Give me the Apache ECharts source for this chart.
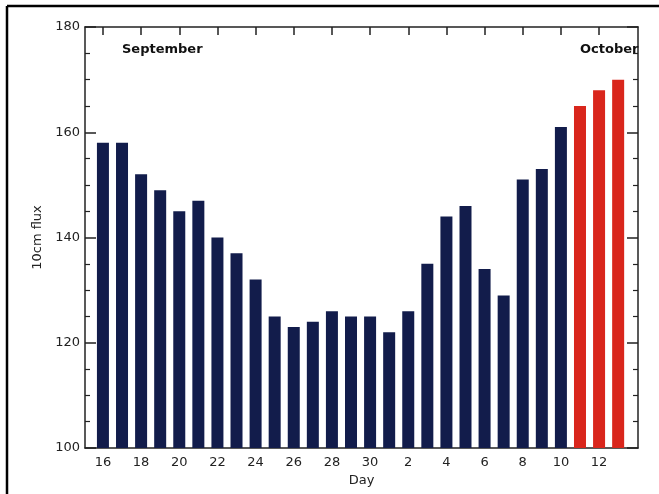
<!DOCTYPE html>
<html>
<head>
<meta charset="utf-8">
<script src="https://cdn.jsdelivr.net/npm/echarts@6/dist/echarts.min.js"></script>
<style>
html, body { margin: 0; padding: 0; background: #fff; }
#chart { width: 659px; height: 494px; }
</style>
</head>
<body>
<div id="chart"></div>
<script>
// day of month for each bar: Sept 16-30, then Oct 1-13
var days = [16, 17, 18, 19, 20, 21, 22, 23, 24, 25, 26, 27, 28, 29, 30,
            1, 2, 3, 4, 5, 6, 7, 8, 9, 10, 11, 12, 13]
// 10cm flux
var flux = [158, 158, 152, 149, 145, 147, 140, 137, 132, 125, 123, 124, 126, 125, 125,
            122, 126, 135, 144, 146, 134, 129, 151, 153, 161, 165, 168, 170]
// bars from this index on are drawn red (Oct 11-13)
var redFrom = 25
var tickIdx = [0, 2, 4, 6, 8, 10, 12, 14, 16, 18, 20, 22, 24, 26]

var navy = '#121c4b'
var red = '#d9261c'
var font = '"DejaVu Sans", Arial, sans-serif'

var xMin = -0.94, xMax = 28.04

var option = {
	animation: false,
	grid: { left: 85, right: 21, top: 27, bottom: 46 },
	xAxis: [
		{
			type: 'value', min: xMin, max: xMax,
			name: 'Day', nameLocation: 'middle', nameGap: 25,
			nameTextStyle: { fontFamily: font, fontSize: 13, color: '#222' },
			axisLine: { show: true, onZero: false, lineStyle: { color: '#222', width: 1.5 } },
			axisTick: { show: false },
			splitLine: { show: false },
			axisLabel: {
				customValues: tickIdx, margin: 8,
				fontFamily: font, fontSize: 13, color: '#222',
				formatter: function (v) { return String(days[Math.round(v)]) }
			}
		},
		{
			type: 'value', min: xMin, max: xMax, position: 'top',
			axisLine: { show: true, onZero: false, lineStyle: { color: '#222', width: 1.5 } },
			axisTick: { show: true, inside: true, length: 8, customValues: tickIdx,
				lineStyle: { color: '#222', width: 1.5 } },
			axisLabel: { show: false },
			splitLine: { show: false }
		}
	],
	yAxis: [
		{
			type: 'value', min: 100, max: 180, interval: 20, position: 'left',
			name: '10cm flux', nameLocation: 'middle', nameGap: 40,
			nameTextStyle: { fontFamily: font, fontSize: 13, color: '#222' },
			axisLine: { show: true, onZero: false, lineStyle: { color: '#222', width: 1.5 } },
			axisTick: { show: true, inside: true, length: 11, lineStyle: { color: '#222', width: 1.5 } },
			minorTick: { show: true, splitNumber: 4, length: 5, lineStyle: { color: '#222', width: 1.2 } },
			axisLabel: { margin: 5, fontFamily: font, fontSize: 13, color: '#222' },
			splitLine: { show: false }
		},
		{
			type: 'value', min: 100, max: 180, interval: 20, position: 'right',
			axisLine: { show: true, onZero: false, lineStyle: { color: '#222', width: 1.5 } },
			axisTick: { show: true, inside: true, length: 11, lineStyle: { color: '#222', width: 1.5 } },
			minorTick: { show: true, splitNumber: 4, length: 5, lineStyle: { color: '#222', width: 1.2 } },
			axisLabel: { show: false },
			splitLine: { show: false }
		}
	],
	series: [
		{
			type: 'bar',
			barWidth: 12,
			data: flux.map(function (v, i) {
				return { value: [i, v], itemStyle: { color: i >= redFrom ? red : navy } }
			})
		}
	],
	graphic: [
		{ type: 'line', shape: { x1: 7, y1: 6, x2: 7, y2: 494 }, style: { stroke: '#000', lineWidth: 2.5 } },
		{ type: 'line', shape: { x1: 7, y1: 6, x2: 659, y2: 6 }, style: { stroke: '#000', lineWidth: 2.5 } },
		{ type: 'text', left: 122, top: 43, z: 10,
			style: { text: 'September', font: 'bold 13px ' + font, fill: '#111' } },
		{ type: 'text', left: 580, top: 43, z: 10,
			style: { text: 'October', font: 'bold 13px ' + font, fill: '#111' } }
	]
}

var myChart = echarts.init(document.getElementById('chart'))
myChart.setOption(option)
</script>
</body>
</html>
